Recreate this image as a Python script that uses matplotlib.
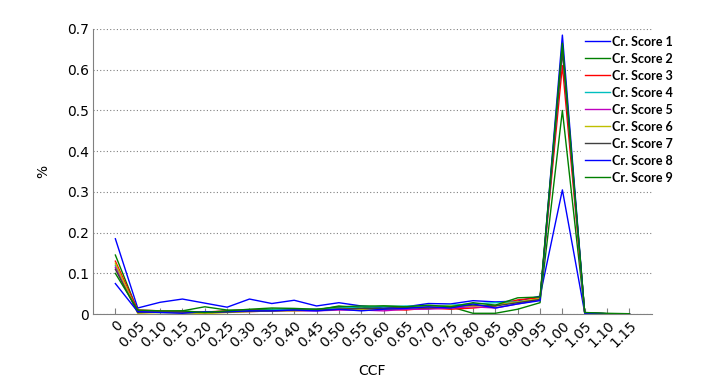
import matplotlib
matplotlib.use("Agg")
import matplotlib.pyplot as plt


ccf_labels = ["0", "0.05", "0.10", "0.15", "0.20", "0.25", "0.30", "0.35",
              "0.40", "0.45", "0.50", "0.55", "0.60", "0.65", "0.70", "0.75",
              "0.80", "0.85", "0.90", "0.95", "1.00", "1.05", "1.10", "1.15"]

score_names = ["Cr. Score %d" % i for i in range(1, 10)]

score_1 = [0.185, 0.015, 0.029, 0.037, 0.027, 0.017, 0.037, 0.026, 0.034, 0.020, 0.028, 0.020,
           0.015, 0.018, 0.026, 0.025, 0.033, 0.030, 0.032, 0.044, 0.305, 0.003, 0.001, 0.0]
score_2 = [0.145, 0.008, 0.006, 0.008, 0.018, 0.010, 0.010, 0.012, 0.012, 0.010, 0.020, 0.015,
           0.020, 0.018, 0.020, 0.018, 0.002, 0.002, 0.012, 0.028, 0.500, 0.003, 0.001, 0.0]
score_3 = [0.130, 0.010, 0.008, 0.006, 0.005, 0.008, 0.010, 0.008, 0.010, 0.012, 0.015, 0.012,
           0.012, 0.010, 0.015, 0.012, 0.015, 0.020, 0.035, 0.040, 0.610, 0.002, 0.001, 0.0]
score_4 = [0.120, 0.005, 0.004, 0.004, 0.003, 0.006, 0.008, 0.010, 0.012, 0.012, 0.015, 0.018,
           0.018, 0.020, 0.018, 0.022, 0.025, 0.028, 0.030, 0.035, 0.660, 0.002, 0.001, 0.0]
score_5 = [0.115, 0.006, 0.005, 0.004, 0.005, 0.006, 0.006, 0.008, 0.008, 0.008, 0.010, 0.010,
           0.008, 0.012, 0.012, 0.015, 0.018, 0.015, 0.025, 0.035, 0.650, 0.002, 0.001, 0.0]
score_6 = [0.125, 0.002, 0.004, 0.003, 0.001, 0.004, 0.006, 0.008, 0.008, 0.010, 0.012, 0.012,
           0.012, 0.015, 0.018, 0.020, 0.020, 0.022, 0.030, 0.038, 0.655, 0.002, 0.001, 0.0]
score_7 = [0.110, 0.004, 0.005, 0.005, 0.004, 0.005, 0.007, 0.008, 0.010, 0.010, 0.012, 0.014,
           0.014, 0.016, 0.015, 0.018, 0.022, 0.020, 0.028, 0.036, 0.645, 0.003, 0.001, 0.0]
score_8 = [0.075, 0.006, 0.004, 0.002, 0.006, 0.006, 0.008, 0.008, 0.010, 0.008, 0.012, 0.008,
           0.012, 0.014, 0.018, 0.015, 0.025, 0.015, 0.025, 0.033, 0.685, 0.002, 0.001, 0.0]
score_9 = [0.100, 0.010, 0.008, 0.008, 0.004, 0.008, 0.012, 0.015, 0.014, 0.012, 0.018, 0.020,
           0.020, 0.018, 0.022, 0.018, 0.028, 0.022, 0.040, 0.042, 0.665, 0.004, 0.002, 0.001]

series = [score_1, score_2, score_3, score_4, score_5, score_6, score_7, score_8, score_9]
colors = ["#0000ff", "#008000", "#ff0000", "#00bfbf", "#bf00bf",
          "#bfbf00", "#404040", "#0000ff", "#008000"]


def main():
    fig = plt.figure(figsize=(7.21, 3.84), dpi=100)
    ax = fig.add_axes([0.129, 0.182, 0.775, 0.7425])

    x = list(range(1, len(ccf_labels) + 1))
    for vals, name, col in zip(series, score_names, colors):
        ax.plot(x, vals, color=col, lw=1.0, label=name)

    ax.set_xlim(0, 25)
    ax.set_ylim(0, 0.7)
    ax.set_yticks([0, 0.1, 0.2, 0.3, 0.4, 0.5, 0.6, 0.7])
    ax.set_yticklabels(["0", "0.1", "0.2", "0.3", "0.4", "0.5", "0.6", "0.7"])
    ax.set_xticks(x)
    ax.set_xticklabels(ccf_labels, rotation=45, ha="right", rotation_mode="anchor")

    ax.yaxis.grid(True, linestyle=(0, (1, 2)), color="#808080", lw=0.8)
    ax.set_axisbelow(True)
    for s in ["top", "right"]:
        ax.spines[s].set_visible(False)
    for s in ["left", "bottom"]:
        ax.spines[s].set_color("#808080")
    ax.tick_params(axis="both", direction="in", length=4, color="#808080",
                   labelsize=10, pad=3)
    ax.tick_params(axis="y", length=0, pad=3)

    ax.set_ylabel("%", fontsize=10, labelpad=12)
    ax.set_xlabel("CCF", fontsize=10, labelpad=10)

    ax.legend(loc="upper left", bbox_to_anchor=(0.806, 0.917), frameon=True,
              fancybox=False, edgecolor="white", framealpha=1.0,
              handlelength=2.0, handletextpad=0.2, labelspacing=0.4,
              borderpad=0.3, borderaxespad=0.0,
              bbox_transform=fig.transFigure,
              prop={"family": "Lato", "weight": "bold", "size": 9})

    fig.savefig("out.png", dpi=100)


if __name__ == "__main__":
    main()
